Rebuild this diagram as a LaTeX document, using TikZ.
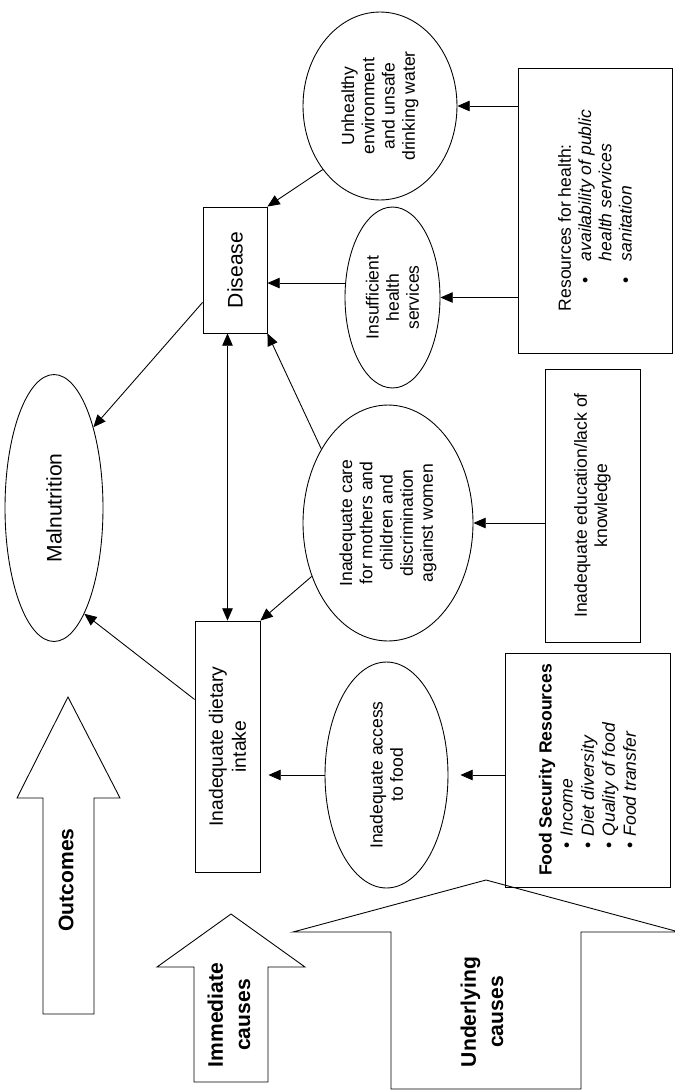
\documentclass[tikz,border=0pt]{standalone}
\usepackage{fontspec}
\setmainfont{Liberation Sans}
\usetikzlibrary{shapes.geometric,arrows.meta}
\newcommand{\bitem}[2]{\hspace*{15.5pt}\makebox[#1][l]{\textbullet}\textit{#2}}

\begin{document}
\begin{tikzpicture}[
  x=0.02cm, y=-0.02cm,
  line width=0.5pt,
  every node/.style={rotate=90, inner sep=0pt},
  box/.style={rectangle, draw, align=center, font=\fontsize{10}{11.5}\selectfont},
  oval/.style={ellipse, draw, align=center, font=\fontsize{10}{11.5}\selectfont},
  level/.style={align=center, font=\fontsize{12}{15.5}\selectfont\bfseries},
  arr/.style={-{Triangle[length=7pt,width=6pt]}},
  dbl/.style={{Triangle[length=7pt,width=6pt]}-{Triangle[length=7pt,width=6pt]}}
]
\useasboundingbox (0,0) rectangle (675,1092);

\node[oval, minimum width=5.34cm, minimum height=1.96cm, font=\fontsize{12}{14}\selectfont] (malnut) at (54,508) {Malnutrition};
\node[box, minimum width=2.52cm, minimum height=1.28cm, font=\fontsize{12}{14}\selectfont] (disease) at (235,270) {Disease};
\node[box, minimum width=5.02cm, minimum height=1.3cm, font=\fontsize{11}{13}\selectfont] (dietary) at (227.5,746.5) {Inadequate dietary\\intake};

\node[oval, minimum width=3.76cm, minimum height=3.08cm] (unhealthy) at (380,106) {Unhealthy\\environment\\and unsafe\\drinking water};
\node[oval, minimum width=3.62cm, minimum height=1.9cm] (insuff) at (392.5,297.5) {Insufficient\\health\\services};
\node[oval, minimum width=4.72cm, minimum height=3.4cm] (care) at (388,523) {Inadequate care\\for mothers and\\children and\\discrimination\\against women};
\node[oval, minimum width=4.52cm, minimum height=2.46cm] (access) at (386.5,775) {Inadequate access\\to food};

\node[box, minimum width=5.7cm, minimum height=3.08cm, align=left] (health) at (595,210.5) {Resources for health:\\%
  \bitem{13pt}{availability of public}\\%
  \hspace*{28.5pt}\textit{health services}\\%
  \bitem{13pt}{sanitation}};
\node[box, minimum width=5.46cm, minimum height=1.9cm] (educ) at (592.5,505.5) {Inadequate education/lack of\\knowledge};
\node[box, minimum width=4.68cm, minimum height=3.3cm, align=left, font=\fontsize{10}{12}\selectfont] (food) at (587.5,770) {\textbf{Food Security Resources}\\%
  \bitem{7pt}{Income}\\%
  \bitem{7pt}{Diet diversity}\\%
  \bitem{7pt}{Quality of food}\\%
  \bitem{7pt}{Food transfer}};

% level arrows
\draw (68,697) -- (120,798) -- (94,798) -- (94,1014) -- (43,1014) -- (43,798) -- (17,798) -- cycle;
\node[level] (outcomes) at (66,880) {Outcomes};
\draw (231,914) -- (305,967) -- (268,967) -- (268,1082) -- (194,1082) -- (194,967) -- (157,967) -- cycle;
\node[level] (immediate) at (229,1015) {Immediate\\causes};
\draw (486,880) -- (679,932) -- (581,932) -- (581,1089) -- (391,1089) -- (391,932) -- (293,932) -- cycle;
\node[level] (underlying) at (482,1012) {Underlying\\causes};

\draw[arr] (unhealthy.138) -- (disease.south east);
\draw[arr] (insuff.73) -- (insuff.73 -| disease.south);
\draw[arr] (health.north |- unhealthy) -- (unhealthy);
\draw[arr] (health.north |- insuff) -- (insuff);
\draw[arr] (educ.north |- care) -- (care);
\draw[arr] (care.42) -- (disease.south west);
\draw[arr] (care.125) -- (dietary.south east);
\draw[arr, shorten >=0.24cm] (food.north |- access) -- (access);
\draw[arr, shorten >=0.16cm] (access) -- (access -| dietary.south);
\draw[dbl] (dietary.east) -- (dietary.east |- disease.west);
\draw[arr] (disease.135) -- (malnut.334);
\draw[arr] (dietary.35) -- (malnut.196);
\end{tikzpicture}
\end{document}
